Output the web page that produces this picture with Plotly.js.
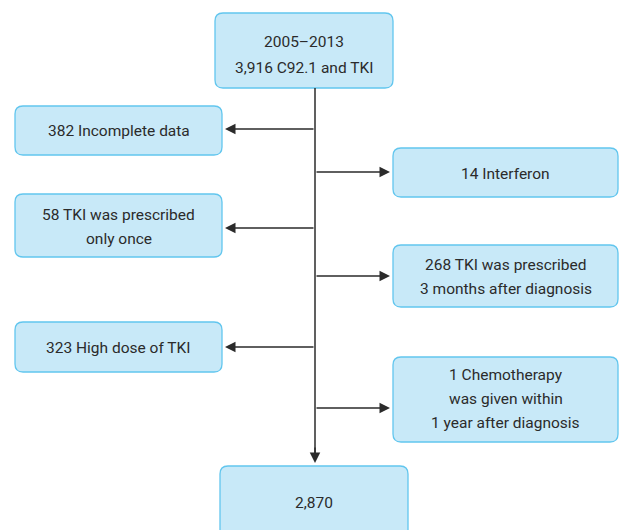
<!DOCTYPE html>
<html><head><meta charset="utf-8">
<script src="https://cdn.plot.ly/plotly-3.0.1.min.js"></script>
<style>html,body{margin:0;padding:0;background:#fff}</style>
</head><body><div id="chart" style="width:619px;height:530px"></div>
<script>
// Data
const startLabel = ["2005\u20132013", "3,916 C92.1 and TKI"];
const excludedCounts = [382, 14, 58, 268, 323, 1];
const excludedLabels = [
  ["Incomplete data"],
  ["Interferon"],
  ["TKI was prescribed", "only once"],
  ["TKI was prescribed", "3 months after diagnosis"],
  ["High dose of TKI"],
  ["Chemotherapy", "was given within", "1 year after diagnosis"]
];
const finalCount = ["2,870"];

// Layout geometry (pixel space)
const boxesGeom = [
  {x0:15, x1:222, y0:106, y1:155, ay:129, side:"L", tc:131},
  {x0:393, x1:618, y0:148, y1:197, ay:172, side:"R", tc:174},
  {x0:15, x1:222, y0:194, y1:257, ay:228, side:"L", tc:227},
  {x0:393, x1:618, y0:245, y1:307, ay:276, side:"R", tc:277},
  {x0:15, x1:222, y0:322, y1:372, ay:347, side:"L", tc:348},
  {x0:393, x1:618, y0:357, y1:442, ay:408, side:"R", tc:399}
];
const topGeom = {x0:215, x1:393, y0:13, y1:88, tc:55, ls:26};
const botGeom = {x0:220, x1:408, y0:466, y1:545, tc:503};
const spineX = 315;

const fill = "#c8e9f8", border = "#62c6ee", ink = "#2b2b2b";
function rr(g, r) {
  const {x0,x1,y0,y1} = g;
  return `M${x0+r},${y0} H${x1-r} Q${x1},${y0} ${x1},${y0+r} V${y1-r} Q${x1},${y1} ${x1-r},${y1} H${x0+r} Q${x0},${y1} ${x0},${y1-r} V${y0+r} Q${x0},${y0} ${x0+r},${y0} Z`;
}
const shapes = [], annotations = [];
function box(g, lines) {
  shapes.push({type:"path", path:rr(g,8), xref:"x", yref:"y", fillcolor:fill, line:{color:border, width:1.3}, layer:"above"});
  const ls = g.ls || 24;
  const n = lines.length;
  lines.forEach((t,k)=>{
    annotations.push({x:(g.x0+g.x1)/2, y:g.tc + (k-(n-1)/2)*ls, xref:"x", yref:"y", text:t, showarrow:false,
      font:{family:"Roboto, 'Noto Sans', sans-serif", size:15.5, color:ink}, align:"center", xanchor:"center", yanchor:"middle"});
  });
}
box(topGeom, startLabel);
excludedCounts.forEach((c,i)=>{
  const lines = excludedLabels[i].slice();
  lines[0] = c + " " + lines[0];
  box(boxesGeom[i], lines);
});
box(botGeom, finalCount);

// spine
shapes.push({type:"line", xref:"x", yref:"y", x0:spineX, x1:spineX, y0:topGeom.y1, y1:botGeom.y0-10, line:{color:ink, width:1.5}});
annotations.push({x:spineX, y:botGeom.y0-3, ax:spineX, ay:botGeom.y0-20, xref:"x", yref:"y", axref:"x", ayref:"y", text:"", showarrow:true, arrowhead:2, arrowsize:1.4, arrowwidth:1.5, arrowcolor:ink});
boxesGeom.forEach(g=>{
  const head = g.side==="L" ? g.x1+3 : g.x0-3;
  annotations.push({x:head, y:g.ay, ax:spineX, ay:g.ay, xref:"x", yref:"y", axref:"x", ayref:"y", text:"", showarrow:true, arrowhead:2, arrowsize:1.4, arrowwidth:1.5, arrowcolor:ink});
});

const layout = {
  width:619, height:530, margin:{l:0,r:0,t:0,b:0},
  paper_bgcolor:"#fff", plot_bgcolor:"#fff",
  xaxis:{range:[0,619], visible:false, fixedrange:true},
  yaxis:{range:[530,0], visible:false, fixedrange:true},
  shapes, annotations, showlegend:false
};
Plotly.newPlot("chart", [{x:[0],y:[0],mode:"markers",marker:{opacity:0},hoverinfo:"skip"}], layout, {staticPlot:true});
</script></body></html>
